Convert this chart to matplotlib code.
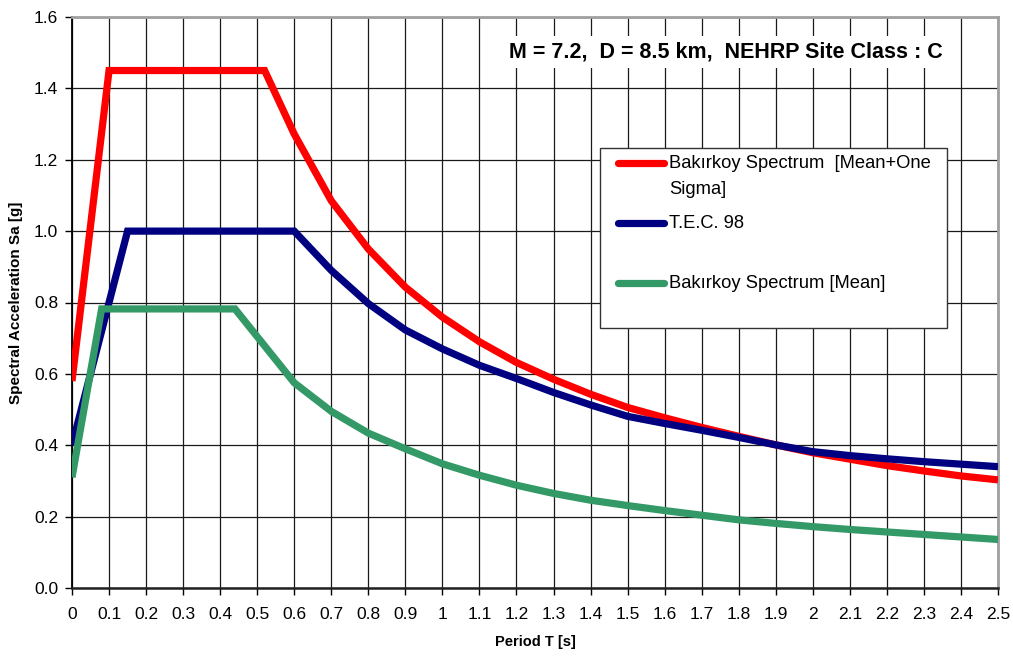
import matplotlib
matplotlib.use("Agg")
import matplotlib.pyplot as plt
from matplotlib.patches import Rectangle
from matplotlib.ticker import MultipleLocator, FuncFormatter

plt.rcParams['font.family'] = ['Liberation Sans', 'DejaVu Sans']

# ---- data ----
T_red = [0, 0.1, 0.52, 0.6, 0.7, 0.8, 0.9, 1.0, 1.1, 1.2, 1.3, 1.4, 1.5, 1.6, 1.7,
         1.8, 1.9, 2.0, 2.1, 2.2, 2.3, 2.4, 2.5]
Sa_red = [0.58, 1.45, 1.45, 1.272, 1.085, 0.95, 0.843, 0.759, 0.69, 0.632, 0.585,
          0.543, 0.506, 0.477, 0.450, 0.425, 0.401, 0.379, 0.361, 0.343, 0.328,
          0.314, 0.303]

T_blue = [0, 0.15, 0.6, 0.7, 0.8, 0.9, 1.0, 1.1, 1.2, 1.3, 1.4, 1.5, 1.6, 1.7,
          1.8, 1.9, 2.0, 2.1, 2.2, 2.3, 2.4, 2.5]
Sa_blue = [0.40, 1.0, 1.0, 0.89, 0.797, 0.723, 0.67, 0.624, 0.587, 0.548, 0.513,
           0.481, 0.461, 0.442, 0.422, 0.401, 0.382, 0.371, 0.362, 0.354, 0.347,
           0.340]

T_green = [0, 0.08, 0.44, 0.6, 0.7, 0.8, 0.9, 1.0, 1.1, 1.2, 1.3, 1.4, 1.5, 1.6,
           1.7, 1.8, 1.9, 2.0, 2.1, 2.2, 2.3, 2.4, 2.5]
Sa_green = [0.31, 0.782, 0.782, 0.575, 0.495, 0.434, 0.390, 0.348, 0.316, 0.288,
            0.265, 0.246, 0.231, 0.217, 0.204, 0.191, 0.181, 0.172, 0.164, 0.157,
            0.150, 0.143, 0.136]

labels = ["Bakırkoy Spectrum  [Mean+One", "T.E.C. 98", "Bakırkoy Spectrum [Mean]"]
label_extra = "Sigma]"
title_text = "M = 7.2,  D = 8.5 km,  NEHRP Site Class : C"
colors = ["#ff0000", "#000080", "#339966"]

fig = plt.figure(figsize=(10.13, 6.56), dpi=100)
ax = fig.add_axes([72/1013, 1-588/656, 926/1013, 571/656])

lw = 5.2
ax.plot(T_red, Sa_red, color=colors[0], lw=lw, solid_capstyle='butt', solid_joinstyle='miter', zorder=3)
ax.plot(T_blue, Sa_blue, color=colors[1], lw=lw, solid_capstyle='butt', solid_joinstyle='miter', zorder=4)
ax.plot(T_green, Sa_green, color=colors[2], lw=lw, solid_capstyle='butt', solid_joinstyle='miter', zorder=5)

ax.set_xlim(0, 2.5)
ax.set_ylim(0, 1.6)
ax.xaxis.set_major_locator(MultipleLocator(0.1))
ax.yaxis.set_major_locator(MultipleLocator(0.2))
ax.xaxis.set_major_formatter(FuncFormatter(lambda v, p: "%g" % round(v, 1)))
ax.yaxis.set_major_formatter(FuncFormatter(lambda v, p: "%.1f" % v))
ax.grid(True, color="#1a1a1a", lw=0.9, zorder=1)
ax.set_axisbelow(True)
ax.tick_params(axis='both', direction='out', length=5, width=1, labelsize=12.5, colors='black')
ax.tick_params(axis='x', pad=9)
ax.tick_params(axis='y', pad=5)
ax.spines['left'].set_color('black')
ax.spines['left'].set_linewidth(1.3)
ax.spines['bottom'].set_color('#222222')
ax.spines['bottom'].set_linewidth(1.8)
for s in ['top', 'right']:
    ax.spines[s].set_color('#a0a0a0')
    ax.spines[s].set_linewidth(2.0)

ax.set_xlabel("Period T [s]", fontsize=10.5, fontweight='bold', labelpad=9)
ax.set_ylabel("Spectral Acceleration Sa [g]", fontsize=11, fontweight='bold', labelpad=8)

# title annotation
ax.text(0.706, 0.939, title_text, transform=ax.transAxes, ha='center', va='center',
        fontsize=15.5, fontweight='bold', zorder=6,
        bbox=dict(facecolor='white', edgecolor='none', pad=4))

# legend drawn manually
lx0, lx1 = (600-72)/926, (947-72)/926
ly0, ly1 = (588-328)/571, (588-148)/571
ax.add_patch(Rectangle((lx0, ly0), lx1-lx0, ly1-ly0, transform=ax.transAxes,
                       facecolor='white', edgecolor='#333333', lw=1.0, zorder=7))
hx0, hx1 = (618-72)/926, (664-72)/926
tx = (669-72)/926
ys = [(588-163)/571, (588-223)/571, (588-283)/571]
for c, lab, y in zip(colors, labels, ys):
    ax.plot([hx0, hx1], [y, y], transform=ax.transAxes, color=c, lw=lw,
            solid_capstyle='round', clip_on=False, zorder=8)
    ax.text(tx, y, lab, transform=ax.transAxes, ha='left', va='center',
            fontsize=13.2, zorder=8)
ax.text(tx, (588-190)/571, label_extra, transform=ax.transAxes, ha='left', va='center',
        fontsize=13.2, zorder=8)

fig.savefig("out.png", dpi=100)
